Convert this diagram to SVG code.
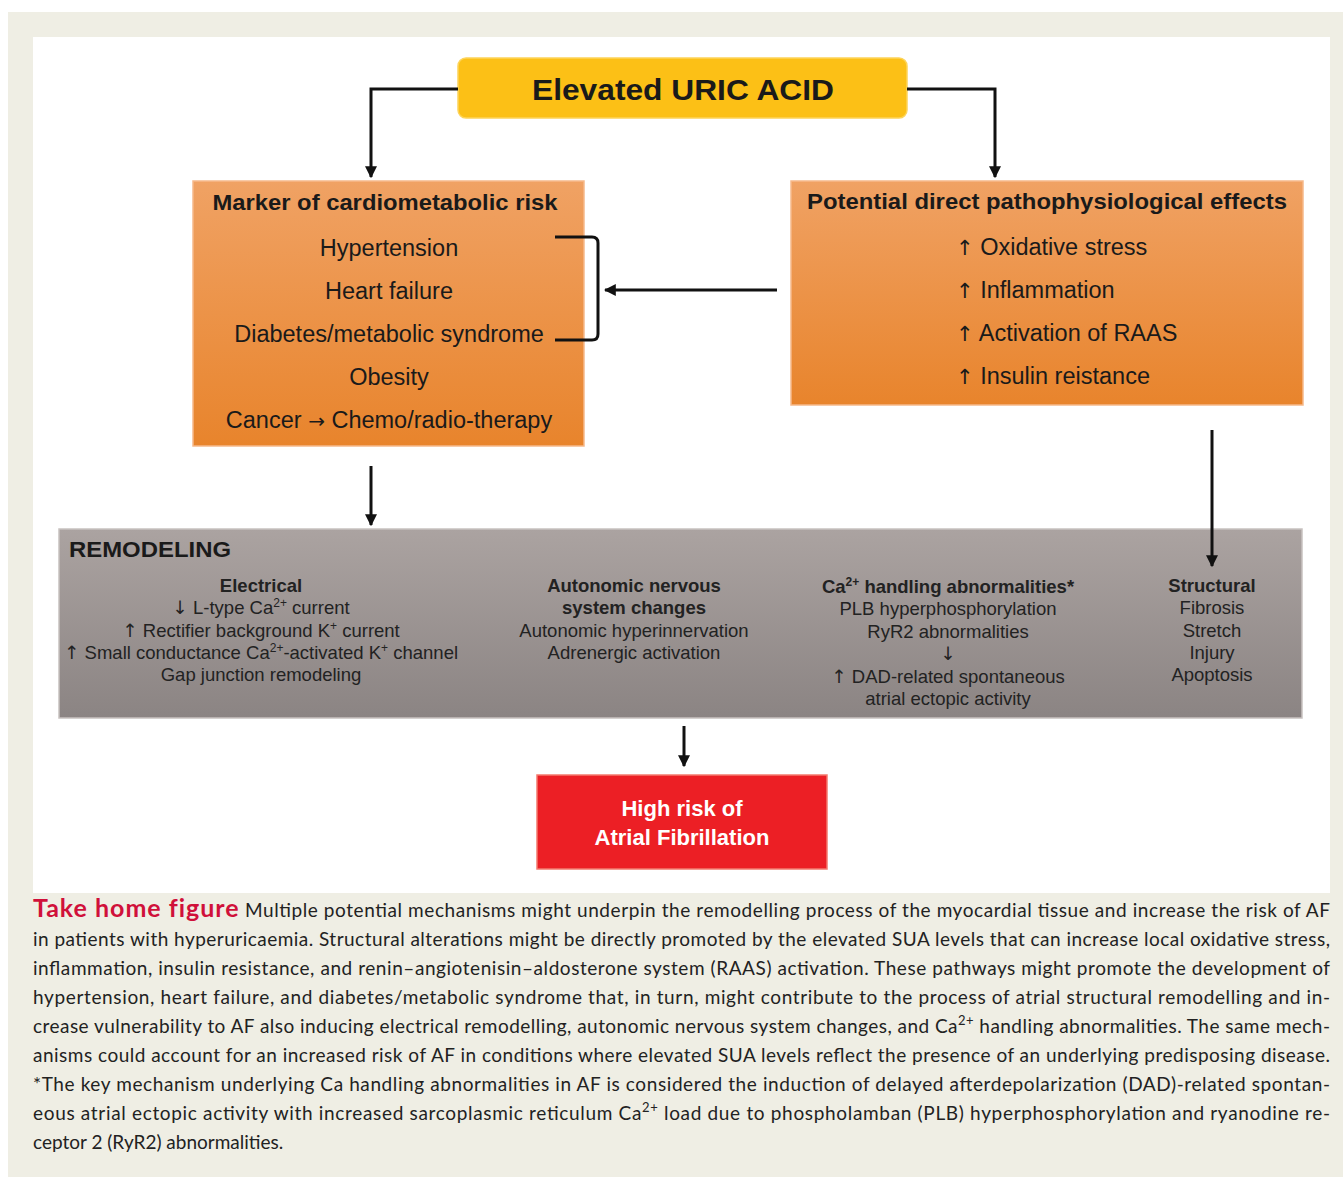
<svg xmlns="http://www.w3.org/2000/svg" width="1343" height="1177" viewBox="0 0 1343 1177">
<defs>
<linearGradient id="og" x1="0" y1="0" x2="0" y2="1"><stop offset="0" stop-color="#f0a264"/><stop offset="1" stop-color="#e8842c"/></linearGradient>
<linearGradient id="gg" x1="0" y1="0" x2="0" y2="1"><stop offset="0" stop-color="#aba3a1"/><stop offset="1" stop-color="#8b8483"/></linearGradient>
<marker id="ah" viewBox="0 0 10 10" refX="9" refY="5" markerWidth="4" markerHeight="4" orient="auto" markerUnits="strokeWidth"><path d="M0,0 L10,5 L0,10 z" fill="#111"/></marker>
<style>
.t{font-family:"Liberation Sans",Arial,sans-serif;fill:#1a1a1a}
.b{font-weight:bold}
.c{text-anchor:middle}
.big{font-size:23.5px}
.sm{font-size:18.5px;fill:#222}
.ar{font-family:"DejaVu Sans",sans-serif}
.cap{font-family:Lato,"Open Sans",sans-serif;font-size:19px;fill:#222}
.ln{fill:none;stroke:#111;stroke-width:3}
</style>
</defs>
<rect x="0" y="0" width="1343" height="1177" fill="#ffffff"/>
<rect x="8" y="12" width="1335" height="1165" fill="#efeee4"/>
<rect x="33" y="37" width="1297" height="856" fill="#ffffff"/>

<g id="uric">
<rect x="458" y="58" width="449" height="60" rx="8" fill="#fcc016" stroke="#fdd45a" stroke-width="1.5"/>
<text class="t b c" x="683" y="100" font-size="30" textLength="302" lengthAdjust="spacingAndGlyphs">Elevated URIC ACID</text>
</g>

<g id="marker">
<rect x="193" y="181" width="391" height="265" fill="url(#og)" stroke="#f6b98a" stroke-width="1.5"/>
<text class="t b c" x="385" y="210" font-size="22" textLength="345" lengthAdjust="spacingAndGlyphs">Marker of cardiometabolic risk</text>
<text class="t c big" x="389" y="256">Hypertension</text>
<text class="t c big" x="389" y="299">Heart failure</text>
<text class="t c big" x="389" y="342">Diabetes/metabolic syndrome</text>
<text class="t c big" x="389" y="385">Obesity</text>
<text class="t c big" x="389" y="428">Cancer <tspan class="ar" font-size="20">→</tspan> Chemo/radio-therapy</text>
</g>

<g id="direct">
<rect x="791" y="181" width="512" height="224" fill="url(#og)" stroke="#f6b98a" stroke-width="1.5"/>
<text class="t b c" x="1047" y="209" font-size="22" textLength="480" lengthAdjust="spacingAndGlyphs">Potential direct pathophysiological effects</text>
<text class="t big" x="956" y="255"><tspan class="ar" font-size="21">↑</tspan> Oxidative stress</text>
<text class="t big" x="956" y="298"><tspan class="ar" font-size="21">↑</tspan> Inflammation</text>
<text class="t big" x="956" y="341"><tspan class="ar" font-size="21">↑</tspan> Activation of RAAS</text>
<text class="t big" x="956" y="384"><tspan class="ar" font-size="21">↑</tspan> Insulin reistance</text>
</g>

<g id="remodeling">
<rect x="59" y="529" width="1243" height="189" fill="url(#gg)" stroke="#c8c2c0" stroke-width="1.5"/>
<text class="t b" x="69" y="557" font-size="22.5" textLength="162" lengthAdjust="spacingAndGlyphs">REMODELING</text>
<text class="t sm c b" x="261" y="592">Electrical</text>
<text class="t sm c" x="261" y="614"><tspan class="ar">↓</tspan> L-type Ca<tspan font-size="12" dy="-7">2+</tspan><tspan dy="7"> current</tspan></text>
<text class="t sm c" x="261" y="637"><tspan class="ar">↑</tspan> Rectifier background K<tspan font-size="12" dy="-7">+</tspan><tspan dy="7"> current</tspan></text>
<text class="t sm c" x="261" y="659"><tspan class="ar">↑</tspan> Small conductance Ca<tspan font-size="12" dy="-7">2+</tspan><tspan dy="7">-activated K</tspan><tspan font-size="12" dy="-7">+</tspan><tspan dy="7"> channel</tspan></text>
<text class="t sm c" x="261" y="681">Gap junction remodeling</text>
<text class="t sm c b" x="634" y="592">Autonomic nervous</text>
<text class="t sm c b" x="634" y="614">system changes</text>
<text class="t sm c" x="634" y="637">Autonomic hyperinnervation</text>
<text class="t sm c" x="634" y="659">Adrenergic activation</text>
<text class="t sm c b" x="948" y="593">Ca<tspan font-size="12" dy="-7">2+</tspan><tspan dy="7"> handling abnormalities*</tspan></text>
<text class="t sm c" x="948" y="615">PLB hyperphosphorylation</text>
<text class="t sm c" x="948" y="638">RyR2 abnormalities</text>
<text class="t sm c ar" x="948" y="660">↓</text>
<text class="t sm c" x="948" y="683"><tspan class="ar">↑</tspan> DAD-related spontaneous</text>
<text class="t sm c" x="948" y="705">atrial ectopic activity</text>
<text class="t sm c b" x="1212" y="592">Structural</text>
<text class="t sm c" x="1212" y="614">Fibrosis</text>
<text class="t sm c" x="1212" y="637">Stretch</text>
<text class="t sm c" x="1212" y="659">Injury</text>
<text class="t sm c" x="1212" y="681">Apoptosis</text>
</g>

<g id="af">
<rect x="537" y="775" width="290" height="94" fill="#ec1f25" stroke="#f37a6e" stroke-width="1.5"/>
<text class="t b c" x="682" y="816" font-size="22" style="fill:#ffffff">High risk of</text>
<text class="t b c" x="682" y="845" font-size="22" style="fill:#ffffff">Atrial Fibrillation</text>
</g>

<g id="connectors">
<path class="ln" d="M458,89 H371 V177" marker-end="url(#ah)"/>
<path class="ln" d="M907,89 H995 V177" marker-end="url(#ah)"/>
<path class="ln" d="M555,237 H592 Q598,237 598,243 V334 Q598,340 592,340 H555"/>
<path class="ln" d="M777,290 H605" marker-end="url(#ah)"/>
<path class="ln" d="M371,466 V525" marker-end="url(#ah)"/>
<path class="ln" d="M1212,430 V566" marker-end="url(#ah)"/>
<path class="ln" d="M684,726 V766" marker-end="url(#ah)"/>
</g>

<g id="caption">
<text class="cap" x="33" y="917" textLength="1297" lengthAdjust="spacing"><tspan font-weight="bold" font-size="25" letter-spacing="0.4" style="fill:#d0103a">Take home figure</tspan> Multiple potential mechanisms might underpin the remodelling process of the myocardial tissue and increase the risk of AF</text>
<text class="cap" x="33" y="946" textLength="1297" lengthAdjust="spacing">in patients with hyperuricaemia. Structural alterations might be directly promoted by the elevated SUA levels that can increase local oxidative stress,</text>
<text class="cap" x="33" y="975" textLength="1297" lengthAdjust="spacing">inflammation, insulin resistance, and renin–angiotenisin–aldosterone system (RAAS) activation. These pathways might promote the development of</text>
<text class="cap" x="33" y="1004" textLength="1297" lengthAdjust="spacing">hypertension, heart failure, and diabetes/metabolic syndrome that, in turn, might contribute to the process of atrial structural remodelling and in-</text>
<text class="cap" x="33" y="1033" textLength="1297" lengthAdjust="spacing">crease vulnerability to AF also inducing electrical remodelling, autonomic nervous system changes, and Ca<tspan font-size="13" dy="-8">2+</tspan><tspan dy="8"> handling abnormalities. The same mech-</tspan></text>
<text class="cap" x="33" y="1062" textLength="1297" lengthAdjust="spacing">anisms could account for an increased risk of AF in conditions where elevated SUA levels reflect the presence of an underlying predisposing disease.</text>
<text class="cap" x="33" y="1091" textLength="1297" lengthAdjust="spacing">*The key mechanism underlying Ca handling abnormalities in AF is considered the induction of delayed afterdepolarization (DAD)-related spontan-</text>
<text class="cap" x="33" y="1120" textLength="1297" lengthAdjust="spacing">eous atrial ectopic activity with increased sarcoplasmic reticulum Ca<tspan font-size="13" dy="-8">2+</tspan><tspan dy="8"> load due to phospholamban (PLB) hyperphosphorylation and ryanodine re-</tspan></text>
<text class="cap" x="33" y="1149">ceptor 2 (RyR2) abnormalities.</text>
</g>
</svg>
